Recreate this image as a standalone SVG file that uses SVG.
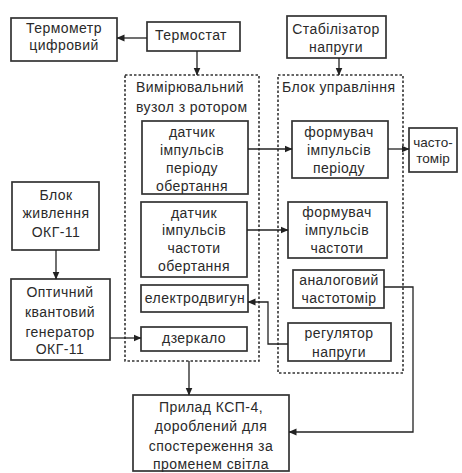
<svg xmlns="http://www.w3.org/2000/svg" width="462" height="473" viewBox="0 0 462 473">
<defs>
<marker id="ah" viewBox="0 0 8 8" refX="7.5" refY="4" markerWidth="8" markerHeight="8" markerUnits="userSpaceOnUse" orient="auto">
<path d="M0,0.5 L8,4 L0,7.5 Z" fill="#222"/>
</marker>
</defs>
<style>
.box{fill:#fff;stroke:#333;stroke-width:1.7}
.dash{fill:none;stroke:#333;stroke-width:1.6;stroke-dasharray:2.5 2}
.t{font-family:"Liberation Sans",Arial,sans-serif;font-size:14px;letter-spacing:0.45px;fill:#2a2a2a;text-anchor:middle}
.tl{text-anchor:start}
.sm{font-size:13.5px;letter-spacing:0}
.c{fill:none;stroke:#222;stroke-width:1.3}
</style>
<rect width="462" height="473" fill="#fff"/>

<g id="vymir-group">
<rect class="dash" x="125" y="75" width="134" height="286"/>
<text class="t tl" x="136" y="92">Вимірювальний</text>
<text class="t tl" x="136" y="112">вузол з ротором</text>
</g>
<g id="upr-group">
<rect class="dash" x="278" y="75" width="125" height="298"/>
<text class="t tl" x="282" y="92">Блок управління</text>
</g>

<g id="termometr">
<rect class="box" x="11" y="18" width="106" height="43"/>
<text class="t" x="64" y="33">Термометр</text>
<text class="t" x="64" y="50">цифровий</text>
</g>
<g id="termostat">
<rect class="box" x="147" y="22" width="93" height="29"/>
<text class="t" x="191" y="40">Термостат</text>
</g>
<g id="stabilizator">
<rect class="box" x="287" y="16" width="99" height="42"/>
<text class="t" x="336" y="34">Стабілізатор</text>
<text class="t" x="336" y="52">напруги</text>
</g>
<g id="datchyk-period">
<rect class="box" x="142" y="121" width="106" height="73"/>
<text class="t" x="192" y="137">датчик</text>
<text class="t" x="192" y="155">імпульсів</text>
<text class="t" x="192" y="173">періоду</text>
<text class="t" x="192" y="191">обертання</text>
</g>
<g id="datchyk-chastota">
<rect class="box" x="141" y="202" width="106" height="75"/>
<text class="t" x="194" y="218">датчик</text>
<text class="t" x="194" y="235">імпульсів</text>
<text class="t" x="194" y="253">частоти</text>
<text class="t" x="194" y="271">обертання</text>
</g>
<g id="elektrodvygun">
<rect class="box" x="141" y="285" width="107" height="27"/>
<text class="t" x="195" y="303">електродвигун</text>
</g>
<g id="dzerkalo">
<rect class="box" x="141" y="327" width="106" height="24"/>
<text class="t" x="194" y="343">дзеркало</text>
</g>
<g id="formuvach-period">
<rect class="box" x="292" y="121" width="96" height="57"/>
<text class="t" x="339" y="137">формувач</text>
<text class="t" x="339" y="155">імпульсів</text>
<text class="t" x="339" y="173">періоду</text>
</g>
<g id="chastotomir">
<rect class="box" x="409" y="128" width="48" height="44"/>
<text class="t sm" x="433" y="147">часто-</text>
<text class="t sm" x="433" y="163">томір</text>
</g>
<g id="formuvach-chastota">
<rect class="box" x="288" y="202" width="99" height="56"/>
<text class="t" x="337" y="217">формувач</text>
<text class="t" x="337" y="235">імпульсів</text>
<text class="t" x="337" y="253">частоти</text>
</g>
<g id="analogovyi">
<rect class="box" x="293" y="270" width="91" height="38"/>
<text class="t" x="339" y="285">аналоговий</text>
<text class="t" x="339" y="303">частотомір</text>
</g>
<g id="regulator">
<rect class="box" x="288" y="323" width="103" height="38"/>
<text class="t" x="339" y="338">регулятор</text>
<text class="t" x="339" y="357">напруги</text>
</g>
<g id="blok-zhyvlennia">
<rect class="box" x="12" y="182" width="87" height="68"/>
<text class="t" x="56" y="200">Блок</text>
<text class="t" x="56" y="218">живлення</text>
<text class="t" x="56" y="237">ОКГ-11</text>
</g>
<g id="okg">
<rect class="box" x="11" y="279" width="99" height="81"/>
<text class="t" x="60" y="297">Оптичний</text>
<text class="t" x="60" y="317">квантовий</text>
<text class="t" x="60" y="337">генератор</text>
<text class="t" x="60" y="354">ОКГ-11</text>
</g>
<g id="pryl-ksp">
<rect class="box" x="133" y="395" width="156" height="76"/>
<text class="t" x="211" y="412">Прилад КСП-4,</text>
<text class="t" x="211" y="431">дороблений для</text>
<text class="t" x="211" y="451">спостереження за</text>
<text class="t" x="211" y="469">променем світла</text>
</g>

<g id="connectors">
<line class="c" x1="147" y1="38" x2="117" y2="38" marker-end="url(#ah)"/>
<line class="c" x1="197" y1="51" x2="197" y2="75" marker-end="url(#ah)"/>
<line class="c" x1="339" y1="58" x2="339" y2="75" marker-end="url(#ah)"/>
<line class="c" x1="248" y1="149" x2="292" y2="149" marker-end="url(#ah)"/>
<line class="c" x1="388" y1="149" x2="409" y2="149" marker-end="url(#ah)"/>
<line class="c" x1="247" y1="230" x2="288" y2="230" marker-end="url(#ah)"/>
<polyline class="c" points="288,344 268,344 268,302 248,302" marker-end="url(#ah)"/>
<polyline class="c" points="384,287 413,287 413,432 289,432" marker-end="url(#ah)"/>
<line class="c" x1="56" y1="250" x2="56" y2="279" marker-end="url(#ah)"/>
<line class="c" x1="110" y1="338" x2="141" y2="338" marker-end="url(#ah)"/>
<line class="c" x1="189" y1="361" x2="189" y2="395" marker-end="url(#ah)"/>
</g>
</svg>
